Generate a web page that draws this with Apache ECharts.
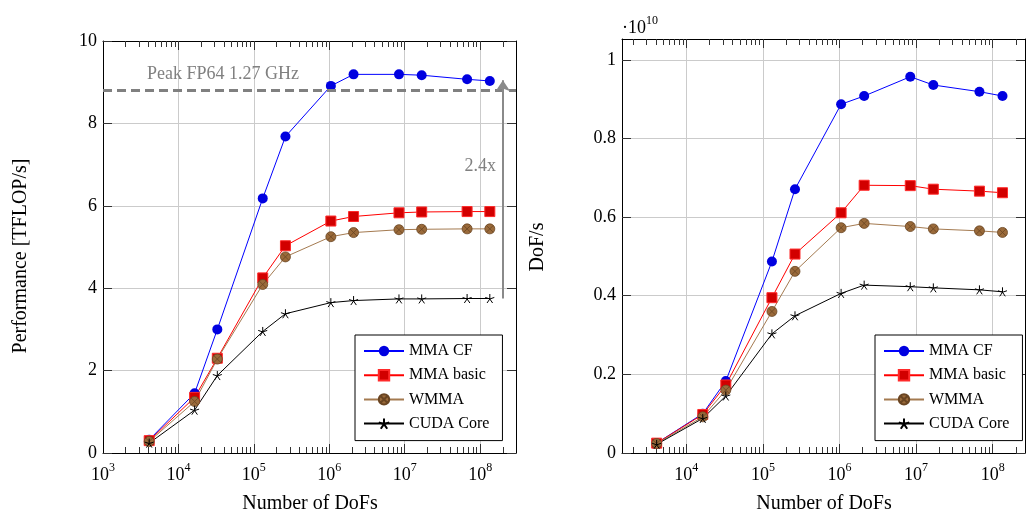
<!DOCTYPE html>
<html><head><meta charset="utf-8">
<script src="https://cdn.jsdelivr.net/npm/echarts@6/dist/echarts.min.js"></script>
<style>html,body{margin:0;padding:0;background:#fff}#c{width:1026px;height:514px}</style>
</head><body><div id="c"></div>
<script>
// ---------- data ----------
const dofs = [4096, 16384, 32768, 131072, 262144, 1048576, 2097152, 8388608, 16777216, 67108864, 134217728];
const seriesNames = ['MMA CF', 'MMA basic', 'WMMA', 'CUDA Core'];
// left: Performance [TFLOP/s]
const perfMmaCf    = [0.32, 1.45, 3.00, 6.18, 7.68, 8.91, 9.19, 9.19, 9.17, 9.07, 9.03];
const perfMmaBasic = [0.30, 1.35, 2.30, 4.25, 5.03, 5.63, 5.74, 5.83, 5.85, 5.86, 5.86];
const perfWmma     = [0.28, 1.25, 2.28, 4.09, 4.76, 5.25, 5.35, 5.42, 5.43, 5.44, 5.44];
const perfCuda     = [0.24, 1.04, 1.88, 2.95, 3.38, 3.65, 3.70, 3.74, 3.74, 3.75, 3.75];
// right: DoF/s (in units of 1e10)
const rateMmaCf    = [0.025, 0.100, 0.183, 0.487, 0.671, 0.887, 0.908, 0.957, 0.936, 0.919, 0.908];
const rateMmaBasic = [0.025, 0.098, 0.173, 0.395, 0.506, 0.611, 0.681, 0.680, 0.671, 0.666, 0.662];
const rateWmma     = [0.024, 0.092, 0.160, 0.360, 0.462, 0.573, 0.584, 0.576, 0.570, 0.565, 0.561];
const rateCuda     = [0.022, 0.088, 0.145, 0.303, 0.349, 0.406, 0.427, 0.423, 0.420, 0.415, 0.410];
// axes
const leftYTicks  = [0, 2, 4, 6, 8, 10];
const rightYTicks = [0, 0.2, 0.4, 0.6, 0.8, 1];
const leftXRange  = [1e3, 2.985e8];
const rightXRange = [1.445e3, 2.64e8];
const rightYMax   = 1.053;
const rightYScaleLabel = '·10';
const rightYScaleExp = '10';
// annotations
const peakFP64 = 8.81;
const peakLabel = 'Peak FP64 1.27 GHz';
const peakLabelAt = 3.83e3;
const arrowAt = 2e8;
const arrowTop = 9.05;
const speedupLabel = '2.4x';
const speedupLabelY = 6.97;

// ---------- helpers ----------
const FONT = '"Liberation Serif", "DejaVu Serif", serif';
const lg = Math.log10;
function decadesIn(r, strict) {
  const a = lg(r[0]), b = lg(r[1]); const out = [];
  for (let d = Math.ceil(a - 1e-9); d <= b + 1e-9; d++) {
    if (strict && (Math.abs(d - a) < 1e-6 || Math.abs(d - b) < 1e-6)) continue;
    out.push(d);
  }
  return out;
}
function minorsIn(r) {
  const a = lg(r[0]), b = lg(r[1]); const out = [];
  for (let d = Math.floor(a); d <= Math.ceil(b); d++)
    for (let k = 2; k <= 9; k++) { const v = lg(k) + d; if (v > a + 1e-6 && v < b - 1e-6) out.push(v); }
  return out;
}
const supRich = {
  b: { fontSize: 18, fontFamily: FONT, color: '#000', lineHeight: 22, verticalAlign: 'bottom' },
  s: { fontSize: 12, fontFamily: FONT, color: '#000', lineHeight: 10, verticalAlign: 'top' }
};
const tickColor = '#333';
const gridColor = '#cbcbcb';

function xAxes(gi, range) {
  const mn = lg(range[0]), mx = lg(range[1]);
  const majorInside = decadesIn(range, true);
  const minors = minorsIn(range);
  const base = { gridIndex: gi, type: 'value', min: mn, max: mx };
  return [
    Object.assign({}, base, {
      position: 'bottom',
      axisLine: { show: true, lineStyle: { color: '#000', width: 1 } },
      axisTick: { show: true, inside: true, length: 9, customValues: majorInside, lineStyle: { color: tickColor } },
      axisLabel: { show: true, customValues: decadesIn(range, false), margin: 9,
        formatter: v => '{b|10}{s|' + Math.round(v) + '}', rich: supRich },
      splitLine: { show: true, lineStyle: { color: gridColor, width: 1 } }
    }),
    Object.assign({}, base, {
      position: 'bottom', axisLine: { show: false },
      axisTick: { show: true, inside: true, length: 6, customValues: minors, lineStyle: { color: tickColor } },
      axisLabel: { show: false }, splitLine: { show: false }
    }),
    Object.assign({}, base, {
      position: 'top',
      axisLine: { show: true, lineStyle: { color: '#000', width: 1 } },
      axisTick: { show: true, inside: true, length: 9, customValues: majorInside, lineStyle: { color: tickColor } },
      axisLabel: { show: false }, splitLine: { show: false }
    }),
    Object.assign({}, base, {
      position: 'top', axisLine: { show: false },
      axisTick: { show: true, inside: true, length: 6, customValues: minors, lineStyle: { color: tickColor } },
      axisLabel: { show: false }, splitLine: { show: false }
    })
  ];
}
function yAxes(gi, max, ticks, fmt) {
  const base = { gridIndex: gi, type: 'value', min: 0, max: max };
  return [
    Object.assign({}, base, {
      position: 'left',
      axisLine: { show: true, lineStyle: { color: '#000', width: 1 } },
      axisTick: { show: true, inside: true, length: 9, customValues: ticks, lineStyle: { color: tickColor } },
      axisLabel: { show: true, customValues: ticks, margin: 6, fontSize: 18, fontFamily: FONT, color: '#000', formatter: fmt },
      splitLine: { show: true, showMinLine: false, showMaxLine: max === ticks[ticks.length - 1] ? false : true,
        lineStyle: { color: gridColor, width: 1 } }
    }),
    Object.assign({}, base, {
      position: 'right',
      axisLine: { show: true, lineStyle: { color: '#000', width: 1 } },
      axisTick: { show: true, inside: true, length: 9, customValues: ticks, lineStyle: { color: tickColor } },
      axisLabel: { show: false }, splitLine: { show: false }
    })
  ];
}

const starPath = 'path://M0,0L0,-1M0,0L0.951,-0.309M0,0L0.588,0.809M0,0L-0.588,0.809M0,0L-0.951,-0.309';
const otimesPath = 'path://M-1,0A1,1,0,1,0,1,0A1,1,0,1,0,-1,0ZM-0.707,-0.707L0.707,0.707M0.707,-0.707L-0.707,0.707';
const styles = {
  'MMA CF':    { symbol: 'circle', symbolSize: 10, line: '#0000ff', item: { color: '#0000e0' } },
  'MMA basic': { symbol: 'rect', symbolSize: 10, line: '#ff0000', item: { color: '#d20000', borderColor: '#ff2a2a', borderWidth: 1 } },
  'WMMA':      { symbol: otimesPath, symbolSize: 10, line: '#a47a50', item: { color: '#9a6a3a', borderColor: '#6a4522', borderWidth: 0.8 } },
  'CUDA Core': { symbol: starPath, symbolSize: 9, line: '#000000', item: { color: '#000', borderColor: '#000', borderWidth: 1 } }
};
function mk(name, vals, xi, yi, extra) {
  const st = styles[name];
  return Object.assign({
    name: name, type: 'line', xAxisIndex: xi, yAxisIndex: yi,
    data: dofs.map((d, i) => [lg(d), vals[i]]),
    symbol: st.symbol, symbolSize: st.symbolSize, showSymbol: true,
    lineStyle: { color: st.line, width: 1 },
    itemStyle: Object.assign({}, st.item),
    color: st.line,
    clip: false, animation: false
  }, extra || {});
}

const leftSeries = [
  mk('MMA CF', perfMmaCf, 0, 0, {
    markLine: {
      silent: true, symbol: 'none', animation: false,
      label: { show: false },
      lineStyle: { color: '#808080', width: 3, type: [9, 5] },
      data: [{ yAxis: peakFP64 }]
    },
    markPoint: {
      silent: true, animation: false, symbol: 'circle', symbolSize: 0,
      itemStyle: { color: 'rgba(0,0,0,0)' },
      data: [
        { coord: [lg(peakLabelAt), peakFP64], label: { show: true, formatter: peakLabel, position: [0, -25],
          color: '#808080', fontSize: 18, fontFamily: FONT } },
        { coord: [lg(arrowAt), speedupLabelY], label: { show: true, formatter: speedupLabel, position: 'left', distance: 7,
          color: '#808080', fontSize: 18, fontFamily: FONT } }
      ]
    }
  }),
  mk('MMA basic', perfMmaBasic, 0, 0),
  mk('WMMA', perfWmma, 0, 0),
  mk('CUDA Core', perfCuda, 0, 0, {
    markLine: {
      silent: true, animation: false, symbol: ['none', 'arrow'], symbolSize: 11,
      label: { show: false },
      lineStyle: { color: '#8a8a8a', width: 2, type: 'solid' },
      data: [[{ coord: [lg(arrowAt), perfCuda[perfCuda.length - 1]] }, { coord: [lg(arrowAt), arrowTop] }]]
    }
  })
];
const rightSeries = [
  mk('MMA CF', rateMmaCf, 4, 2),
  mk('MMA basic', rateMmaBasic, 4, 2),
  mk('WMMA', rateWmma, 4, 2),
  mk('CUDA Core', rateCuda, 4, 2)
];

function legend(left) {
  return {
    data: seriesNames, orient: 'vertical', left: left, top: 335,
    itemWidth: 40, itemHeight: 13, itemGap: 8.2,
    padding: [8, 13, 9, 8],
    backgroundColor: '#fff', borderColor: '#000', borderWidth: 1, borderRadius: 0,
    textStyle: { fontSize: 16, fontFamily: FONT, color: '#000', lineHeight: 16 },
    selectedMode: false
  };
}

const option = {
  animation: false,
  backgroundColor: '#fff',
  grid: [
    { left: 103, top: 41, width: 413, height: 412, containLabel: false },
    { left: 622, top: 39, right: 1, height: 414, containLabel: false }
  ],
  xAxis: [].concat(xAxes(0, leftXRange), xAxes(1, rightXRange)),
  yAxis: [].concat(
    yAxes(0, 10, leftYTicks, v => String(v)),
    yAxes(1, rightYMax, rightYTicks, v => (v === 0 ? '0' : v === 1 ? '1' : v.toFixed(1)))
  ),
  legend: [legend(355), legend(875)],
  series: leftSeries.concat(rightSeries),
  graphic: [
    { type: 'text', x: 21, y: 256, rotation: Math.PI / 2,
      style: { text: 'Performance [TFLOP/s]', fontSize: 20, fontFamily: FONT, fill: '#000', align: 'center', verticalAlign: 'middle' } },
    { type: 'text', x: 538, y: 247, rotation: Math.PI / 2,
      style: { text: 'DoF/s', fontSize: 20, fontFamily: FONT, fill: '#000', align: 'center', verticalAlign: 'middle' } },
    { type: 'text', x: 310, y: 504,
      style: { text: 'Number of DoFs', fontSize: 20, fontFamily: FONT, fill: '#000', align: 'center', verticalAlign: 'middle' } },
    { type: 'text', x: 824, y: 504,
      style: { text: 'Number of DoFs', fontSize: 20, fontFamily: FONT, fill: '#000', align: 'center', verticalAlign: 'middle' } },
    { type: 'text', x: 622, y: 15,
      style: { text: '{b|' + rightYScaleLabel + '}{s|' + rightYScaleExp + '}', rich: supRich, align: 'left', verticalAlign: 'top' } }
  ]
};
const chart = echarts.init(document.getElementById('c'), null, { renderer: 'canvas' });
chart.setOption(option);
</script>
</body></html>
